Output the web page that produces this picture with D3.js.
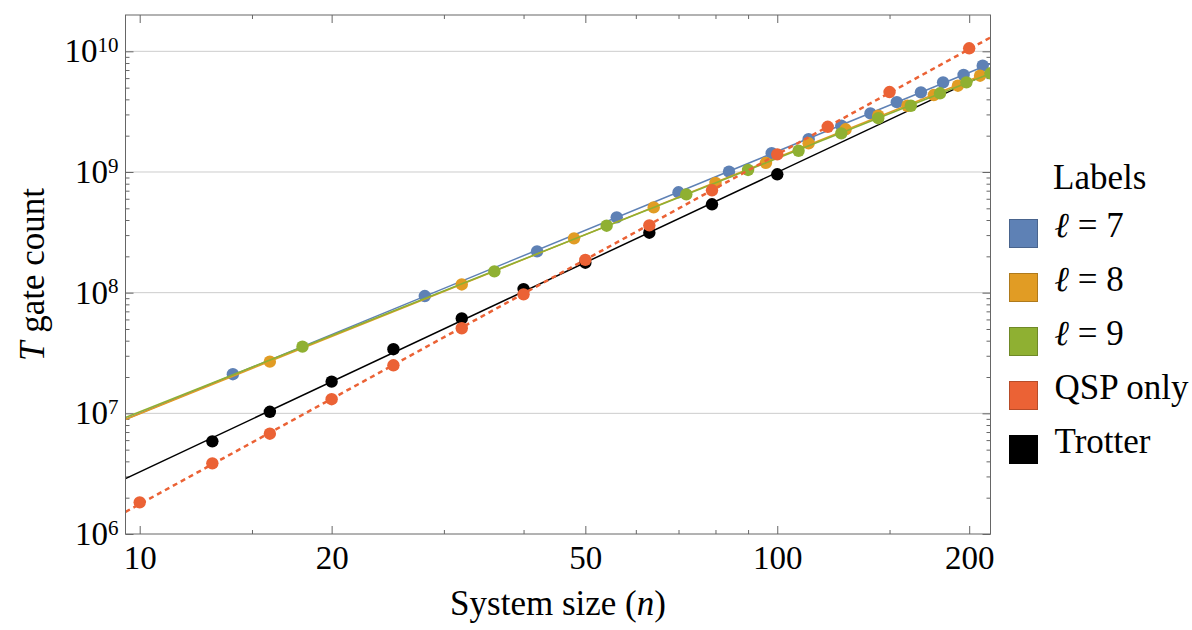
<!DOCTYPE html>
<html>
<head>
<meta charset="utf-8">
<script src="https://cdn.jsdelivr.net/npm/d3@7"></script>
<style>
  body { margin: 0; background: #ffffff; }
  svg { display: block; font-family: "Liberation Serif", "Times New Roman", serif; }
</style>
</head>
<body>
<svg id="chart" width="1192" height="630"></svg>
<script>
// system sizes and T gate counts
var nL7 = [14, 28, 42, 56, 70, 84, 98, 112, 126, 140, 154, 168, 182, 196, 210];
var tL7 = [2.11e7, 9.38e7, 2.20e8, 4.21e8, 6.79e8, 1.006e9, 1.43e9, 1.87e9, 2.42e9, 3.06e9, 3.79e9, 4.57e9, 5.53e9, 6.37e9, 7.6e9];

var nL8 = [16, 32, 48, 64, 80, 96, 112, 128, 144, 160, 176, 192, 208];
var tL8 = [2.68e7, 1.17e8, 2.82e8, 5.09e8, 8.11e8, 1.19e9, 1.73e9, 2.26e9, 2.93e9, 3.54e9, 4.34e9, 5.19e9, 6.28e9];

var nL9 = [18, 36, 54, 72, 90, 108, 126, 144, 162, 180, 198, 216];
var tL9 = [3.57e7, 1.50e8, 3.59e8, 6.53e8, 1.04e9, 1.50e9, 2.09e9, 2.79e9, 3.54e9, 4.49e9, 5.53e9, 6.58e9];

var nQsp = [10, 13, 16, 20, 25, 32, 40, 50, 63, 79, 100, 120, 150, 200];
var tQsp = [1.83e6, 3.85e6, 6.78e6, 1.31e7, 2.50e7, 5.07e7, 9.68e7, 1.87e8, 3.61e8, 7.05e8, 1.40e9, 2.37e9, 4.60e9, 1.06e10];

var nTrot = [13, 16, 20, 25, 32, 40, 50, 63, 79, 100];
var tTrot = [5.86e6, 1.03e7, 1.83e7, 3.40e7, 6.12e7, 1.07e8, 1.77e8, 3.14e8, 5.40e8, 9.57e8];

var labels = ['\u2113 = 7', '\u2113 = 8', '\u2113 = 9', 'QSP only', 'Trotter'];
var xMajor = [10, 20, 50, 100, 200];
var xMinor = [15, 30, 40, 60, 70, 80, 90, 150];
var yMajor = [1e6, 1e7, 1e8, 1e9, 1e10];

var colors = ['#5e81b5', '#e19c24', '#8fb032', '#eb6235', '#000000'];

var series = [
  { n: nL7, t: tL7, color: colors[0], dashed: false, width: 1.5 },
  { n: nL8, t: tL8, color: colors[1], dashed: false, width: 1.5 },
  { n: nL9, t: tL9, color: colors[2], dashed: false, width: 1.5 },
  { n: nQsp, t: tQsp, color: colors[3], dashed: true, width: 2.5 },
  { n: nTrot, t: tTrot, color: colors[4], dashed: false, width: 1.5 }
];
// drawing order: Trotter underneath, QSP on top
var drawOrder = [4, 0, 1, 2, 3];

var padLeft = 125.5, padRight = 990.5, padTop = 15, padBottom = 534;

var x = d3.scaleLog().domain([9.5, 216]).range([padLeft, padRight]);
var y = d3.scaleLog().domain([1e6, 2.0e10]).range([padBottom, padTop]);

var svg = d3.select('#chart');
var frameColor = '#666666';
var serif = '"Liberation Serif", "Times New Roman", serif';

svg.append('defs').append('clipPath').attr('id', 'plotClip')
  .append('rect')
  .attr('x', padLeft).attr('y', padTop)
  .attr('width', padRight - padLeft).attr('height', padBottom - padTop);

// horizontal grid lines
svg.append('g').selectAll('line')
  .data(yMajor.slice(1))
  .enter().append('line')
  .attr('x1', padLeft).attr('x2', padRight)
  .attr('y1', function (d) { return y(d); })
  .attr('y2', function (d) { return y(d); })
  .attr('stroke', '#cccccc')
  .attr('stroke-width', 1);

// minor y ticks: 2..9 per decade
var yMinor = [];
yMajor.forEach(function (p) {
  for (var k = 2; k <= 9; k++) {
    if (p * k < y.domain()[1]) yMinor.push(p * k);
  }
});

function styleAxis(g) {
  g.attr('font-family', serif);
  g.select('.domain').remove();
  g.selectAll('.tick line').attr('stroke', frameColor);
  g.selectAll('.tick text').attr('fill', '#000000');
}

// bottom / top
svg.append('g')
  .attr('transform', 'translate(0,' + padBottom + ')')
  .call(d3.axisBottom(x).tickValues(xMajor).tickSize(-8).tickPadding(12).tickFormat(d3.format('d')))
  .call(styleAxis)
  .attr('font-size', 33);

svg.append('g')
  .attr('transform', 'translate(0,' + padBottom + ')')
  .call(d3.axisBottom(x).tickValues(xMinor).tickSize(-4).tickFormat(''))
  .call(styleAxis);

svg.append('g')
  .attr('transform', 'translate(0,' + padTop + ')')
  .call(d3.axisTop(x).tickValues(xMajor).tickSize(-8).tickFormat(''))
  .call(styleAxis);

svg.append('g')
  .attr('transform', 'translate(0,' + padTop + ')')
  .call(d3.axisTop(x).tickValues(xMinor).tickSize(-4).tickFormat(''))
  .call(styleAxis);

// left / right
var yAxisG = svg.append('g')
  .attr('transform', 'translate(' + padLeft + ',0)')
  .call(d3.axisLeft(y).tickValues(yMajor).tickSize(-8).tickPadding(7).tickFormat(''))
  .call(styleAxis)
  .attr('font-size', 33);

yAxisG.selectAll('.tick text')
  .attr('dy', '0.32em')
  .each(function (d) {
    var t = d3.select(this);
    t.append('tspan').text('10');
    t.append('tspan')
      .attr('dy', '-10.5')
      .attr('font-size', 21)
      .text(Math.round(Math.log10(d)));
  });

svg.append('g')
  .attr('transform', 'translate(' + padLeft + ',0)')
  .call(d3.axisLeft(y).tickValues(yMinor).tickSize(-4).tickFormat(''))
  .call(styleAxis);

svg.append('g')
  .attr('transform', 'translate(' + padRight + ',0)')
  .call(d3.axisRight(y).tickValues(yMajor).tickSize(-8).tickFormat(''))
  .call(styleAxis);

svg.append('g')
  .attr('transform', 'translate(' + padRight + ',0)')
  .call(d3.axisRight(y).tickValues(yMinor).tickSize(-4).tickFormat(''))
  .call(styleAxis);

// power-law fit (least squares in log-log) drawn across the whole frame
function fitLine(s) {
  var lx = s.n.map(Math.log10), ly = s.t.map(Math.log10);
  var mx = d3.mean(lx), my = d3.mean(ly);
  var sxy = d3.sum(lx, function (v, i) { return (v - mx) * (ly[i] - my); });
  var sxx = d3.sum(lx, function (v) { return (v - mx) * (v - mx); });
  var b = sxy / sxx, a = my - b * mx;
  return x.domain().map(function (n) {
    return [n, Math.pow(10, a + b * Math.log10(n))];
  });
}

var line = d3.line()
  .x(function (d) { return x(d[0]); })
  .y(function (d) { return y(d[1]); });

var plot = svg.append('g').attr('clip-path', 'url(#plotClip)');

drawOrder.forEach(function (i) {
  var s = series[i];
  plot.append('path')
    .datum(fitLine(s))
    .attr('d', line)
    .attr('fill', 'none')
    .attr('stroke', s.color)
    .attr('stroke-width', s.width)
    .attr('stroke-dasharray', s.dashed ? '5,4' : null);

  plot.append('g').selectAll('circle')
    .data(s.n.map(function (n, j) { return [n, s.t[j]]; }))
    .enter().append('circle')
    .attr('cx', function (d) { return x(d[0]); })
    .attr('cy', function (d) { return y(d[1]); })
    .attr('r', 6.2)
    .attr('fill', s.color);
});

// frame
svg.append('rect')
  .attr('x', padLeft).attr('y', padTop)
  .attr('width', padRight - padLeft).attr('height', padBottom - padTop)
  .attr('fill', 'none')
  .attr('stroke', frameColor)
  .attr('stroke-width', 1);

// axis titles
var xTitle = svg.append('text')
  .attr('x', (padLeft + padRight) / 2)
  .attr('y', 615)
  .attr('text-anchor', 'middle')
  .attr('font-size', 35);
xTitle.append('tspan').text('System size (');
xTitle.append('tspan').attr('font-style', 'italic').text('n');
xTitle.append('tspan').text(')');

var yTitle = svg.append('text')
  .attr('transform', 'translate(44,' + ((padTop + padBottom) / 2) + ') rotate(-90)')
  .attr('text-anchor', 'middle')
  .attr('font-size', 35);
yTitle.append('tspan').attr('font-style', 'italic').text('T');
yTitle.append('tspan').text(' gate count');

// legend
var legend = svg.append('g');
legend.append('text')
  .attr('x', 1053).attr('y', 189)
  .attr('font-size', 35)
  .text('Labels');

var item = legend.selectAll('g.item')
  .data(labels)
  .enter().append('g')
  .attr('class', 'item')
  .attr('transform', function (d, i) { return 'translate(1009.5,' + (219.5 + i * 54) + ')'; });

item.append('rect')
  .attr('width', 28).attr('height', 28)
  .attr('fill', function (d, i) { return colors[i]; })
  .attr('stroke', function (d, i) { return d3.color(colors[i]).darker(0.7); })
  .attr('stroke-width', 1);

item.append('text')
  .attr('x', 45).attr('y', 17)
  .attr('font-size', 35)
  .each(function (d) {
    var t = d3.select(this);
    if (d.charAt(0) === '\u2113') {
      t.append('tspan').attr('font-style', 'italic').text('\u2113');
      t.append('tspan').text(d.slice(1));
    } else {
      t.text(d);
    }
  });
</script>
</body>
</html>
